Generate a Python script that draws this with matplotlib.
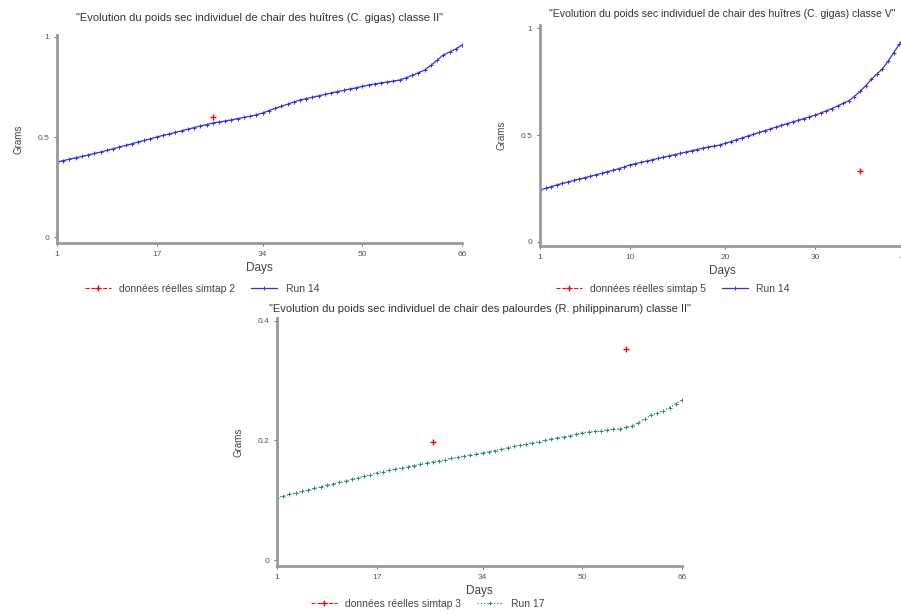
import numpy as np
import matplotlib.pyplot as plt

plt.rcParams['font.family'] = ['Liberation Sans', 'DejaVu Sans']

# Simulated individual dry weight (grams), one value per model step
oyster2_run14 = [0.375, 0.382, 0.389, 0.396, 0.403, 0.410, 0.418, 0.425,
                 0.433, 0.441, 0.450, 0.458, 0.466, 0.475, 0.483, 0.491, 0.500,
                 0.508, 0.515, 0.523, 0.531, 0.539, 0.547, 0.555, 0.562, 0.570,
                 0.575, 0.580, 0.586, 0.592, 0.598, 0.604, 0.611, 0.620,
                 0.632, 0.643, 0.654, 0.664, 0.675, 0.685,
                 0.692, 0.699, 0.706, 0.713, 0.720,
                 0.727, 0.733, 0.740, 0.746, 0.753, 0.760,
                 0.765, 0.770, 0.775, 0.780, 0.785,
                 0.796, 0.808, 0.821, 0.835,
                 0.858, 0.884, 0.910,
                 0.925, 0.940, 0.960]
oyster5_run14 = [0.243, 0.250, 0.258, 0.266, 0.273, 0.280, 0.287, 0.294, 0.300,
                 0.307, 0.314, 0.320, 0.328, 0.335, 0.342, 0.350, 0.360,
                 0.366, 0.372, 0.378, 0.384, 0.390, 0.396, 0.402, 0.408,
                 0.414, 0.420, 0.426, 0.432, 0.438, 0.444, 0.448, 0.453,
                 0.461, 0.469, 0.478, 0.486, 0.495, 0.503, 0.512, 0.520,
                 0.528, 0.537, 0.545, 0.553, 0.561, 0.569, 0.577, 0.585, 0.593,
                 0.603, 0.613, 0.624, 0.636, 0.648, 0.660,
                 0.680, 0.705, 0.730, 0.760, 0.785, 0.810, 0.845, 0.885, 0.925, 0.960]
clam3_run17 = [0.104, 0.107, 0.110, 0.112, 0.115, 0.117, 0.120, 0.122, 0.125,
               0.127, 0.130, 0.132, 0.135, 0.137, 0.140, 0.143, 0.146,
               0.148, 0.150, 0.152, 0.154, 0.156, 0.158, 0.160, 0.162,
               0.164, 0.166, 0.168, 0.170, 0.172, 0.174, 0.175, 0.177, 0.179,
               0.181, 0.183, 0.185, 0.188, 0.190, 0.192, 0.194, 0.196,
               0.198, 0.200, 0.202, 0.204, 0.206, 0.208, 0.210, 0.213,
               0.214, 0.215, 0.216, 0.218, 0.219, 0.220, 0.222, 0.224,
               0.230, 0.236, 0.242, 0.246, 0.250, 0.255, 0.261, 0.268]

# Field measurements (step index, grams)
obs2_steps, obs2_vals = [26], [0.60]
obs5_steps, obs5_vals = [58], [0.33]
obs3_steps, obs3_vals = [26, 57], [0.198, 0.353]

ticks_a = ['1', '17', '34', '50', '66']
ticks_b = ['1', '10', '20', '30', '40']
tick_pos = [1, 17, 34, 50, 66]

titles = ['"Evolution du poids sec individuel de chair des huîtres (C. gigas) classe II"',
          '"Evolution du poids sec individuel de chair des huîtres (C. gigas) classe V"',
          '"Evolution du poids sec individuel de chair des palourdes (R. philippinarum) classe II"']

W, H = 901, 614
fig = plt.figure(figsize=(W / 100, H / 100), dpi=100)


def panel(rect, sim, sim_label, sim_color, sim_ls, obs_x, obs_y, obs_label,
          title, xticklabels, ylim, yticks, title_pad, title_size, leg_xy):
    ax = fig.add_axes(rect)
    steps = np.arange(1, len(sim) + 1)
    # measurements on the model's step grid, gaps left empty so points stay unconnected
    obs = np.full(len(sim), np.nan)
    obs[np.array(obs_x) - 1] = obs_y
    ax.plot(steps, obs, color='red', linestyle='--', marker='+', markersize=5,
            markeredgewidth=1.0, linewidth=0.8, label=obs_label)
    ax.plot(steps, sim, color=sim_color, linestyle=sim_ls, marker='+', markersize=3,
            markeredgewidth=0.7, linewidth=0.9, label=sim_label)
    ax.set_xlim(1, len(sim))
    ax.set_ylim(*ylim)
    ax.set_xticks(tick_pos, labels=xticklabels)
    ax.set_yticks(yticks, labels=[f'{t:g}' for t in yticks])
    ax.tick_params(labelsize=6, colors='#555555', length=2, width=0.6)
    for s in ['top', 'right']:
        ax.spines[s].set_visible(False)
    for s in ['left', 'bottom']:
        ax.spines[s].set_color('#999999')
        ax.spines[s].set_linewidth(2)
    ax.set_xlabel('Days', fontsize=8.5, color='#444444', labelpad=3)
    ax.set_ylabel('Grams', fontsize=7, color='#444444', labelpad=10)
    ax.set_title(title, fontsize=title_size, color='#333333', pad=title_pad)
    ax.legend(loc='center', bbox_to_anchor=(leg_xy[0] / W, 1 - leg_xy[1] / H),
              bbox_transform=fig.transFigure, ncol=2, frameon=False,
              fontsize=7.5, handlelength=2.5, columnspacing=1.5, labelcolor='#444444',
              borderpad=0, borderaxespad=0)
    return ax


panel([0.0633, 0.6042, 0.4495, 0.3388], oyster2_run14, 'Run 14', '#3333dd', '-',
      obs2_steps, obs2_vals, 'données réelles simtap 2', titles[0], ticks_a,
      (-0.03, 1.01), [0, 0.5, 1], 10, 8, (202, 289))
panel([0.5993, 0.5993, 0.405, 0.3599], oyster5_run14, 'Run 14', '#3333dd', '-',
      obs5_steps, obs5_vals, 'données réelles simtap 5', titles[1], ticks_b,
      (-0.02, 1.015), [0, 0.5, 1], 6, 7.6, (673, 289))
panel([0.3074, 0.0782, 0.4495, 0.404], clam3_run17, 'Run 17', '#2e8b6a', ':',
      obs3_steps, obs3_vals, 'données réelles simtap 3', titles[2], ticks_a,
      (-0.01, 0.405), [0, 0.2, 0.4], 4, 8, (428, 604))

fig.savefig('out.png', dpi=100)
